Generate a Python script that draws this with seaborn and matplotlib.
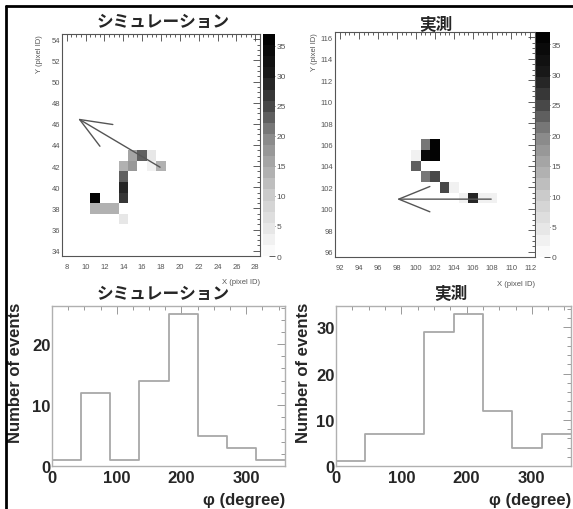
import numpy as np
import seaborn as sns
import matplotlib.pyplot as plt
from matplotlib.colors import ListedColormap
from matplotlib.ticker import MultipleLocator
from matplotlib.lines import Line2D

sns.set_style('white')
plt.rcParams['font.family'] = ['Liberation Sans', 'Noto Sans CJK JP', 'DejaVu Sans']

# --- hit maps: pixel X, pixel Y, charge ---
sim_x = [11, 11, 12, 13, 14, 14, 14, 14, 14, 15, 15, 16, 17, 17, 18]
sim_y = [39, 38, 38, 38, 37, 39, 40, 41, 42, 42, 43, 43, 43, 42, 42]
sim_q = [36, 13, 14, 14, 4, 27, 29, 24, 13, 18, 15, 23, 4, 3, 14]

real_x = [101, 102, 101, 102, 100, 100, 101, 102, 103, 104, 105, 106, 107, 108]
real_y = [106, 106, 105, 105, 105, 104, 103, 103, 102, 102, 101, 101, 101, 101]
real_q = [21, 36, 35, 36, 3, 24, 21, 25, 25, 3, 3, 28, 2, 2]

# reconstructed track direction (tail -> head)
sim_arrow_tail = (17.9, 41.9)
sim_arrow_head = (9.2, 46.5)
real_arrow_tail = (107.9, 100.9)
real_arrow_head = (98.0, 100.9)

# --- azimuthal angle distributions ---
phi_edges = [0, 45, 90, 135, 180, 225, 270, 315, 360]
sim_counts = [1, 12, 1, 14, 25, 5, 3, 1]
real_counts = [1, 7, 7, 29, 33, 12, 4, 7]

titles = ['シミュレーション', '実測']

# grey palette, 20 levels like ROOT
zmax = 37
lev = np.linspace(0, zmax, 21)
mid = (lev[:-1] + lev[1:]) / 2
g = np.interp(mid, [0, 10, 20, 25, 30, zmax], [1.0, 0.8, 0.53, 0.28, 0.1, 0.0])
grey = ListedColormap([(v, v, v) for v in g])

fig = plt.figure(figsize=(5.73, 5.10), dpi=100)
W, H = 573, 510


def box(l, t, r, b):
    return [l / W, 1 - b / H, (r - l) / W, (b - t) / H]


ax1 = fig.add_axes(box(62, 35, 260, 257))
cax1 = fig.add_axes(box(263, 35, 275, 257))
ax2 = fig.add_axes(box(335, 33, 535, 258))
cax2 = fig.add_axes(box(536, 33, 550, 258))
ax3 = fig.add_axes(box(52, 307, 285, 467))
ax4 = fig.add_axes(box(336, 307, 571, 467))

maps = [(ax1, cax1, sim_x, sim_y, sim_q, sim_arrow_tail, sim_arrow_head, (7.5, 28.5), (33.5, 54.5), -0.096),
        (ax2, cax2, real_x, real_y, real_q, real_arrow_tail, real_arrow_head, (91.5, 112.5), (95.5, 116.5), -0.085)]

for ax, cax, x, y, q, tail, head, xl, yl, ylab_x in maps:
    sns.histplot(x=x, y=y, weights=q, discrete=True, cmap=grey, vmin=0, vmax=zmax,
                 cbar=True, cbar_ax=cax, ax=ax)
    ax.annotate('', xy=head, xytext=tail,
                arrowprops=dict(arrowstyle='->, head_length=1.6, head_width=0.65',
                                color='#555555', lw=1.0, mutation_scale=14, shrinkA=0, shrinkB=0))
    ax.set_xlim(*xl)
    ax.set_ylim(*yl)
    ax.xaxis.set_major_locator(MultipleLocator(2))
    ax.yaxis.set_major_locator(MultipleLocator(2))
    ax.xaxis.set_minor_locator(MultipleLocator(0.5))
    ax.yaxis.set_minor_locator(MultipleLocator(0.5))
    ax.tick_params(which='both', direction='in', top=True, right=True, labelsize=5.5,
                   labelcolor='#555555', color='#444444', width=0.6)
    ax.tick_params(which='major', length=5)
    ax.tick_params(which='minor', length=2.5)
    ax.tick_params(axis='x', pad=5)
    ax.tick_params(axis='y', pad=1.5)
    for s in ax.spines.values():
        s.set_color('#555555')
        s.set_linewidth(0.8)
    ax.set_xlabel('X (pixel ID)', loc='right', fontsize=5.5, color='#555555')
    ax.set_ylabel('Y (pixel ID)', loc='top', fontsize=5.5, color='#555555')
    ax.xaxis.set_label_coords(1.0, -0.1)
    ax.yaxis.set_label_coords(ylab_x, 1.0)

    cax.yaxis.set_major_locator(MultipleLocator(5))
    cax.tick_params(direction='in', length=4, width=0.6, color='#444444',
                    labelsize=6, labelcolor='#555555', pad=1)
    for s in cax.spines.values():
        s.set_visible(False)

hists = [(ax3, sim_counts, -0.124), (ax4, real_counts, -0.106)]
centers = [(a + b) / 2 for a, b in zip(phi_edges[:-1], phi_edges[1:])]
for ax, counts, ylab_x in hists:
    sns.histplot(x=centers, weights=counts, bins=phi_edges, element='step', fill=False,
                 color='#a8a8a8', linewidth=1.3, ax=ax)
    ax.set_xlim(0, 360)
    ax.set_ylim(0, max(counts) * 1.05)
    ax.xaxis.set_major_locator(MultipleLocator(100))
    ax.xaxis.set_minor_locator(MultipleLocator(25))
    ax.yaxis.set_major_locator(MultipleLocator(10))
    ax.yaxis.set_minor_locator(MultipleLocator(2))
    ax.tick_params(which='both', direction='in', top=True, right=True, color='#999999', width=0.7)
    ax.tick_params(which='major', length=6, labelsize=12)
    ax.tick_params(which='minor', length=3)
    ax.tick_params(axis='x', pad=3)
    ax.tick_params(axis='y', pad=1)
    for lab in ax.get_xticklabels() + ax.get_yticklabels():
        lab.set_fontweight('bold')
    for s in ax.spines.values():
        s.set_color('#b0b0b0')
        s.set_linewidth(1.0)
    ax.set_ylabel('Number of events', fontsize=12, fontweight='bold')
    ax.set_xlabel('φ (degree)', fontsize=12, fontweight='bold', ha='right')
    ax.yaxis.set_label_coords(ylab_x, 0.59)
    ax.xaxis.set_label_coords(1.0, -0.16)

fig.text(163 / W, 1 - 22 / H, titles[0], ha='center', va='center', fontsize=12, fontweight='bold')
fig.text(436 / W, 1 - 25 / H, titles[1], ha='center', va='center', fontsize=12, fontweight='bold')
fig.text(163 / W, 1 - 295 / H, titles[0], ha='center', va='center', fontsize=12, fontweight='bold')
fig.text(451 / W, 1 - 294 / H, titles[1], ha='center', va='center', fontsize=12, fontweight='bold')

# frame lines at top and left of the slide
fig.add_artist(Line2D([6 / W, 1], [1 - 7 / H, 1 - 7 / H], color='black', lw=2))
fig.add_artist(Line2D([6 / W, 6 / W], [0, 1 - 7 / H], color='black', lw=2))

fig.savefig('out.png', dpi=100)
